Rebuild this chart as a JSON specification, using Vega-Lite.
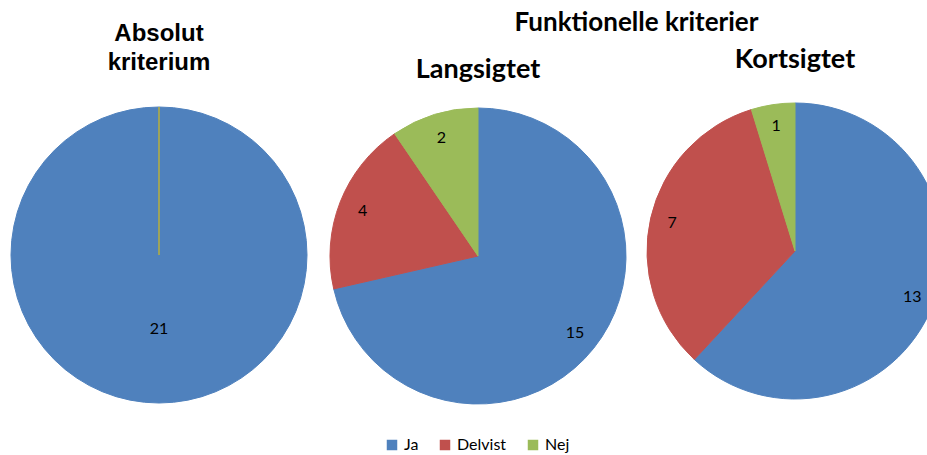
{
  "$schema": "https://vega.github.io/schema/vega-lite/v6.json",
  "padding": {"left": 9, "top": 10, "right": 0, "bottom": 0},
  "background": "white",
  "datasets": {
    "d": [
      {"pie": "A", "k": 1, "svar": "Ja", "n": 21},
      {"pie": "A", "k": 2, "svar": "Delvist", "n": 0},
      {"pie": "A", "k": 3, "svar": "Nej", "n": 0},
      {"pie": "L", "k": 1, "svar": "Ja", "n": 15},
      {"pie": "L", "k": 2, "svar": "Delvist", "n": 4},
      {"pie": "L", "k": 3, "svar": "Nej", "n": 2},
      {"pie": "K", "k": 1, "svar": "Ja", "n": 13},
      {"pie": "K", "k": 2, "svar": "Delvist", "n": 7},
      {"pie": "K", "k": 3, "svar": "Nej", "n": 1}
    ]
  },
  "data": {"name": "d"},
  "config": {
    "view": {"stroke": null},
    "concat": {"spacing": 19},
    "legend": {
      "orient": "bottom",
      "direction": "horizontal",
      "layout": {"bottom": {"anchor": "middle"}},
      "title": null,
      "symbolType": "square",
      "symbolSize": 110,
      "symbolStrokeWidth": 0,
      "labelFont": "Lato",
      "labelFontSize": 16,
      "labelColor": "#000000",
      "columnPadding": 18,
      "offset": 30
    }
  },
  "hconcat": [
    {
      "title": {"text": ["Absolut", "kriterium"], "font": "Liberation Sans", "fontSize": 24, "fontWeight": "bold", "color": "#000000", "lineHeight": 29, "offset": 30, "anchor": "middle"},
      "width": 300,
      "height": 300,
      "transform": [{"filter": "datum.pie == 'A'"}],
      "encoding": {
        "theta": {"field": "n", "type": "quantitative", "stack": true},
        "order": {"field": "k", "type": "quantitative"}
      },
      "layer": [
        {
          "mark": {"type": "arc", "outerRadius": 148, "strokeWidth": 1},
          "encoding": {
            "color": {"field": "svar", "type": "nominal", "scale": {"domain": ["Ja", "Delvist", "Nej"], "range": ["#4F81BD", "#C0504D", "#9BBB59"]}},
            "stroke": {"field": "svar", "type": "nominal", "scale": {"domain": ["Ja", "Delvist", "Nej"], "range": ["#4F81BD", "#C0504D", "#9BBB59"]}}
          }
        },
        {
          "transform": [{"filter": "datum.n > 0"}],
          "mark": {"type": "text", "radius": 74, "font": "Lato", "fontSize": 16, "color": "#000000"},
          "encoding": {"text": {"field": "n", "type": "quantitative"}, "detail": {"field": "svar", "type": "nominal"}}
        }
      ]
    },
    {
      "title": {"text": "Funktionelle kriterier", "font": "Lato", "fontSize": 26, "fontWeight": "bold", "color": "#000000", "offset": 10, "anchor": "middle"},
      "spacing": 17,
      "hconcat": [
        {
          "title": {"text": "Langsigtet", "font": "Lato", "fontSize": 27, "fontWeight": "bold", "color": "#000000", "offset": 21, "anchor": "middle"},
          "width": 300,
          "height": 302,
          "transform": [{"filter": "datum.pie == 'L'"}],
          "encoding": {
            "theta": {"field": "n", "type": "quantitative", "stack": true},
            "order": {"field": "k", "type": "quantitative"}
          },
          "layer": [
            {
              "mark": {"type": "arc", "outerRadius": 148, "strokeWidth": 1},
              "encoding": {
                "color": {"field": "svar", "type": "nominal", "scale": {"domain": ["Ja", "Delvist", "Nej"], "range": ["#4F81BD", "#C0504D", "#9BBB59"]}},
                "stroke": {"field": "svar", "type": "nominal", "scale": {"domain": ["Ja", "Delvist", "Nej"], "range": ["#4F81BD", "#C0504D", "#9BBB59"]}}
              }
            },
            {
              "transform": [{"filter": "datum.n > 0"}],
              "mark": {"type": "text", "radius": 124, "font": "Lato", "fontSize": 16, "color": "#000000"},
              "encoding": {"text": {"field": "n", "type": "quantitative"}, "detail": {"field": "svar", "type": "nominal"}}
            }
          ]
        },
        {
          "title": {"text": "Kortsigtet", "font": "Lato", "fontSize": 27, "fontWeight": "bold", "color": "#000000", "offset": 27, "anchor": "middle"},
          "width": 300,
          "height": 292,
          "transform": [{"filter": "datum.pie == 'K'"}],
          "encoding": {
            "theta": {"field": "n", "type": "quantitative", "stack": true},
            "order": {"field": "k", "type": "quantitative"}
          },
          "layer": [
            {
              "mark": {"type": "arc", "outerRadius": 148, "strokeWidth": 1},
              "encoding": {
                "color": {"field": "svar", "type": "nominal", "scale": {"domain": ["Ja", "Delvist", "Nej"], "range": ["#4F81BD", "#C0504D", "#9BBB59"]}},
                "stroke": {"field": "svar", "type": "nominal", "scale": {"domain": ["Ja", "Delvist", "Nej"], "range": ["#4F81BD", "#C0504D", "#9BBB59"]}}
              }
            },
            {
              "transform": [{"filter": "datum.n > 0"}],
              "mark": {"type": "text", "radius": 126, "font": "Lato", "fontSize": 16, "color": "#000000"},
              "encoding": {"text": {"field": "n", "type": "quantitative"}, "detail": {"field": "svar", "type": "nominal"}}
            }
          ]
        }
      ]
    }
  ]
}
